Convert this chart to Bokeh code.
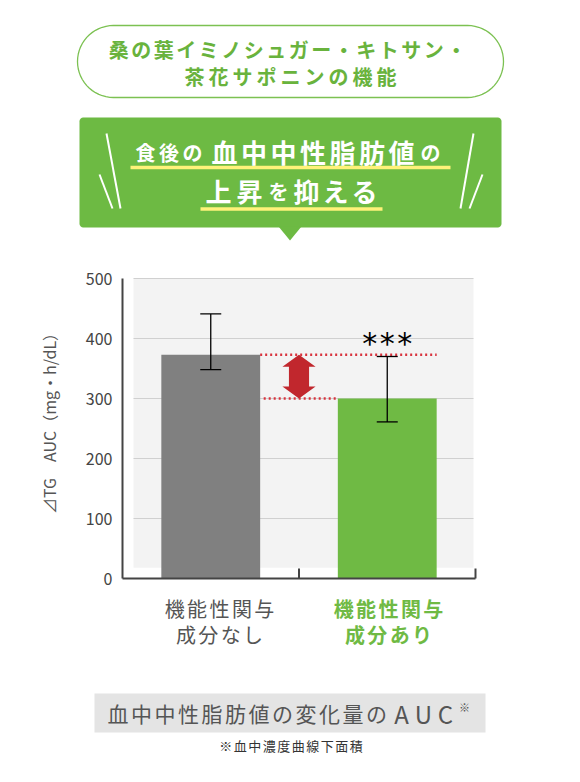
import numpy as np

from bokeh.plotting import figure
from bokeh.models import Range1d, Whisker, TeeHead, ColumnDataSource
from bokeh.core.properties import value
from bokeh.embed import file_html
from bokeh.resources import INLINE

JP = value("Noto Sans CJK JP")

# chart data
categories = ["機能性関与\n成分なし", "機能性関与\n成分あり"]
auc_mean = [373, 300]
err_high = [441, 370]
err_low = [348, 261]
y_ticks = [0, 100, 200, 300, 400, 500]
bar_colors = ["#808080", "#6fba44"]
label_colors = ["#555555", "#6fba44"]
label_styles = ["normal", "bold"]
significance = "***"
y_title = "⊿TG　AUC（mg・h/dL）"
header_lines = ["桑の葉イミノシュガー・キトサン・", "茶花サポニンの機能"]
footer_title = "血中中性脂肪値の変化量の"
footer_unit = "AUC"
footnote = "※血中濃度曲線下面積"

GREEN = "#6dba43"

# where the chart area sits on the page (pixels)
X0, X1 = 122, 475      # x = 0 .. 2
Y0, YTOP = 578, 278    # y = 0 .. 500


def to_cx(px):
    return (px - X0) / (X1 - X0) * 2


def to_cy(py):
    return (Y0 - py) / (Y0 - YTOP) * 500


# one canvas; default ranges are page pixels (y down), "c" ranges are chart units
W, H = 564, 766
p = figure(width=W, height=H, x_range=Range1d(0, W), y_range=Range1d(H, 0),
           x_axis_type=None, y_axis_type=None, output_backend="svg",
           toolbar_location=None, min_border=0)
p.grid.visible = False
p.outline_line_color = None
p.extra_x_ranges = {"cx": Range1d(to_cx(0), to_cx(W))}
p.extra_y_ranges = {"cy": Range1d(to_cy(H), to_cy(0))}
C = dict(x_range_name="cx", y_range_name="cy")


def rounded(l, r, t, b, rad, n=16):
    xs, ys = [], []
    for cx, cy, a0 in [(r - rad, t + rad, -90), (r - rad, b - rad, 0),
                       (l + rad, b - rad, 90), (l + rad, t + rad, 180)]:
        a = np.radians(np.linspace(a0, a0 + 90, n))
        xs += list(cx + rad * np.cos(a))
        ys += list(cy + rad * np.sin(a))
    return xs, ys


def spaced(text, x0, y, pitch, size, color, style="bold"):
    chars = list(text)
    xs = [x0 + i * pitch for i in range(len(chars))]
    p.text(x=xs, y=[y] * len(chars), text=chars, text_align="center",
           text_baseline="middle", text_font=JP, text_font_style=style,
           text_font_size=size, text_color=color)


# ---------------- header ----------------
xs, ys = rounded(77, 503, 25, 97, 36)
p.patch(xs, ys, fill_color="white", line_color="#7cc152", line_width=1.3)
spaced(header_lines[0], 287 - 7.5 * 22.5, 49, 22.5, "20px", "#69b33d")
spaced(header_lines[1], 290 - 4 * 24, 76, 24, "20px", "#69b33d")

xs, ys = rounded(79, 501, 117, 227, 4)
p.patch(xs, ys, fill_color=GREEN, line_color=None)
p.patch([278, 301, 289.5], [226, 226, 240], fill_color=GREEN, line_color=None)

p.segment(x0=[106, 99, 473, 482], y0=[133, 174, 133, 174],
          x1=[120, 112, 460, 469], y1=[208, 208, 208, 208],
          line_color="white", line_width=2)
p.segment(x0=[130, 200], y0=[167, 208.5], x1=[450, 382], y1=[167, 208.5],
          line_color="#fff27a", line_width=3.5)

spaced("食後の", 145, 152, 23.5, "20px", "white")
spaced("血中中性脂肪値", 224, 151, 29.5, "26px", "white")
spaced("の", 430, 152, 23.5, "20px", "white")
spaced("上昇", 218, 190, 31, "26px", "white")
spaced("を", 278, 191, 23.5, "20px", "white")
spaced("抑える", 306, 190, 29, "26px", "white")

# ---------------- chart ----------------
# panel and grid
p.quad(left=to_cx(133), right=to_cx(473), bottom=18, top=500,
       fill_color="#f3f3f3", line_color=None, **C)
p.segment(x0=to_cx(133), x1=to_cx(473), y0=y_ticks[1:], y1=y_ticks[1:],
          line_color="#d0d0d0", line_width=1, **C)

bar_x = [i + 0.5 for i in range(len(categories))]
bw = 0.56
p.vbar(x=bar_x, top=auc_mean, width=bw, fill_color=bar_colors, line_color=None, **C)

src = ColumnDataSource(dict(x=bar_x, upper=err_high, lower=err_low))
p.add_layout(Whisker(source=src, base="x", upper="upper", lower="lower", level="overlay",
                     line_color="black", line_width=1.3,
                     upper_head=TeeHead(size=21, line_color="black", line_width=1.3),
                     lower_head=TeeHead(size=21, line_color="black", line_width=1.3), **C))

# axes
p.segment(x0=[0, 0], y0=[0, 0], x1=[0, 2], y1=[500, 0], line_color="#444444", line_width=2, **C)
p.segment(x0=[1, 2], y0=[0, 0], x1=[1, 2], y1=[to_cy(Y0 - 10)] * 2,
          line_color="#444444", line_width=2, **C)
p.text(x=0, y=y_ticks, text=[str(t) for t in y_ticks], x_offset=-10, text_align="right",
       text_baseline="middle", text_font=JP, text_font_size="16px", text_color="#444444", **C)
p.text(x=[to_cx(48)], y=[to_cy(419)], text=[y_title], angle=np.pi / 2, text_align="center",
       text_baseline="middle", text_font=JP, text_font_size="16px", text_color="#555555", **C)

# reduction marker
p.segment(x0=[bar_x[0] + bw / 2, bar_x[0] + bw / 2 + 0.02],
          x1=[bar_x[1] + bw / 2, bar_x[1] - bw / 2],
          y0=auc_mean, y1=auc_mean, line_color="#d8323c", line_width=2.5, line_dash="2 3", **C)
ax = (bar_x[0] + bar_x[1]) / 2
hw, sw, hl = 0.094, 0.057, 20
hi, lo = auc_mean
p.patch([ax, ax + hw, ax + sw, ax + sw, ax + hw, ax, ax - hw, ax - sw, ax - sw, ax - hw],
        [hi, hi - hl, hi - hl, lo + hl, lo + hl, lo, lo + hl, lo + hl, hi - hl, hi - hl],
        fill_color="#c1272d", line_color=None, **C)

sx = [bar_x[1] + (i - 1) * 0.099 for i in range(len(significance))]
p.text(x=sx, y=[err_high[1] + 22] * len(sx), text=list(significance), text_align="center",
       text_baseline="alphabetic", text_font=value("DejaVu Sans"), text_font_size="30px",
       text_color="black", **C)

# ---------------- category labels and footer ----------------
label_cx = [219, 388]
for cx, cat, col, st in zip(label_cx, categories, label_colors, label_styles):
    for j, line in enumerate(cat.split("\n")):
        spaced(line, cx - (len(line) - 1) / 2 * 22.4, 608 + j * 26, 22.4, "20px", col, st)

p.quad(left=94, right=485, top=693, bottom=732, fill_color="#e4e4e4", line_color=None)
spaced(footer_title, 117.5, 712.5, 23.5, "21px", "#555555", "normal")
spaced(footer_unit, 401, 712.5, 22, "24px", "#555555", "normal")
p.text(x=[464], y=[706], text=["※"], text_align="center", text_baseline="middle",
       text_font=JP, text_font_size="11px", text_color="#555555")
spaced(footnote, 290.5 - 4.5 * 14.5, 745, 14.5, "13px", "#333333", "normal")

open("out.html", "w").write(file_html(p, INLINE))
